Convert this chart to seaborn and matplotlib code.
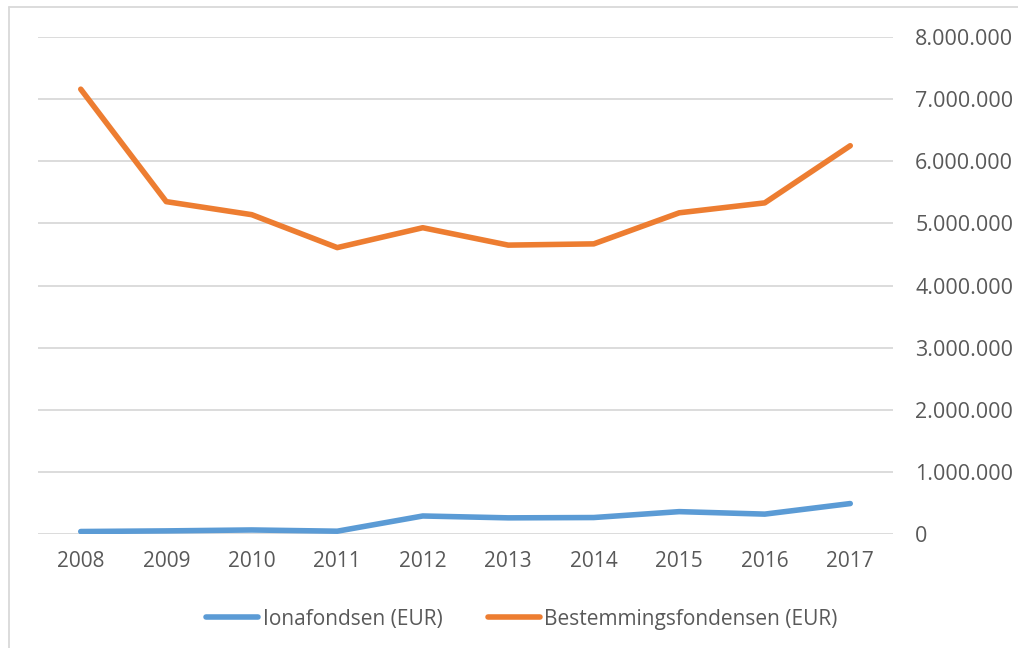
import matplotlib
matplotlib.use("Agg")
import matplotlib.pyplot as plt
import matplotlib.ticker as mticker
from matplotlib.lines import Line2D
import seaborn as sns
import pandas as pd

years = ["2008", "2009", "2010", "2011", "2012", "2013", "2014", "2015", "2016", "2017"]
iona = [40000, 50000, 65000, 45000, 290000, 260000, 265000, 360000, 320000, 490000]
bestemming = [7160000, 5350000, 5140000, 4610000, 4930000, 4650000, 4670000, 5170000, 5330000, 6250000]
series_names = ["Ionafondsen (EUR)", "Bestemmingsfondensen (EUR)"]
colors = ["#5B9BD5", "#ED7D31"]
yticks = [0, 1000000, 2000000, 3000000, 4000000, 5000000, 6000000, 7000000, 8000000]

df = pd.DataFrame({
    "x": list(range(len(years))) * 2,
    "value": iona + bestemming,
    "series": [series_names[0]] * len(years) + [series_names[1]] * len(years),
})

sns.set_theme(style="white")
plt.rcParams["font.family"] = ["Open Sans", "DejaVu Sans"]
text_color = "#595959"

fig = plt.figure(figsize=(10.18, 6.48), dpi=100)
ax = fig.add_axes([38 / 1018, 1 - 534 / 648, (893 - 38) / 1018, (534 - 37) / 648])

sns.lineplot(data=df, x="x", y="value", hue="series", palette=colors,
             linewidth=4.0, ax=ax, legend=False, solid_capstyle="round")

ax.set_xlim(-0.5, len(years) - 0.5)
ax.set_ylim(0, 8000000)
ax.set_yticks(yticks)
ax.yaxis.tick_right()
ax.yaxis.set_major_formatter(mticker.FuncFormatter(lambda v, p: f"{int(v):,}".replace(",", ".")))
ax.set_xticks(range(len(years)))
ax.set_xticklabels(years)
ax.tick_params(axis="y", length=0, pad=16, labelsize=15.5, labelcolor=text_color)
ax.tick_params(axis="x", length=0, pad=12, labelsize=15, labelcolor=text_color)
ax.set_xlabel("")
ax.set_ylabel("")
for s in ax.spines.values():
    s.set_visible(False)
ax.grid(axis="y", color="#D9D9D9", linewidth=1.3)
ax.grid(axis="x", visible=False)
ax.set_axisbelow(True)

handles = [Line2D([0], [0], color=c, linewidth=4.0, solid_capstyle="round") for c in colors]
fig.legend(handles, series_names, loc="center", bbox_to_anchor=(522 / 1018, 1 - 619 / 648),
           ncol=2, frameon=False, fontsize=15, labelcolor=text_color,
           handlelength=2.5, handletextpad=0.2, columnspacing=2.2)

# outer chart border (top and left visible)
fig.add_artist(Line2D([9 / 1018, 1], [1 - 7 / 648, 1 - 7 / 648], color="#D9D9D9", linewidth=1.3, transform=fig.transFigure))
fig.add_artist(Line2D([9 / 1018, 9 / 1018], [0, 1 - 7 / 648], color="#D9D9D9", linewidth=1.3, transform=fig.transFigure))

fig.savefig("out.png", dpi=100)
